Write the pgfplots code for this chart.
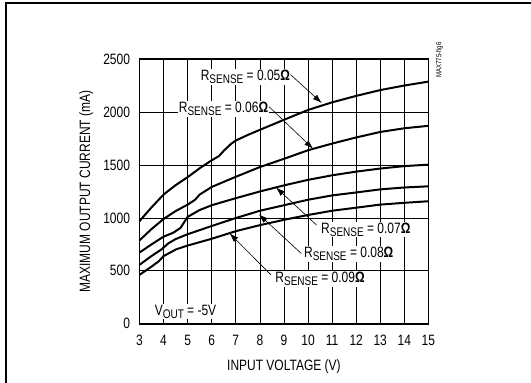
\documentclass[border=0pt]{standalone}
\usepackage{fontspec}
\setmainfont{Liberation Sans}[FakeStretch=0.8]
\usepackage{pgfplots}
\pgfplotsset{compat=1.18}
\usetikzlibrary{arrows.meta}
\newcommand{\rs}[1]{R\raisebox{-0.35ex}{\fontsize{12.5}{13}\selectfont SENSE} = #1{\bfseries Ω}}
\begin{document}
\begin{tikzpicture}[x=1pt,y=1pt]
\useasboundingbox (0,0) rectangle (531,383);
\draw[line width=1.6pt] (6,0) -- (6,380) -- (531,380);
\begin{axis}[
  at={(139.5pt,59.3pt)}, anchor=south west,
  scale only axis, width=288.9pt, height=264.4pt,
  xmin=3, xmax=15, ymin=0, ymax=2500,
  xtick={3,...,15}, ytick={0,500,...,2500},
  grid=major, major grid style={black, line width=0.7pt},
  axis line style={line width=1.8pt},
  major tick length=0pt,
  font=\fontsize{15}{17}\selectfont,
  /pgf/number format/assume math mode=true,
  /pgf/number format/1000 sep={},
  yticklabel style={xshift=-6pt},
  xticklabel style={yshift=-8pt},
  xlabel={INPUT VOLTAGE (V)},
  ylabel={MAXIMUM OUTPUT CURRENT (mA)},
  xlabel style={at={(axis description cs:0.5,-0.164)}, anchor=center},
  ylabel style={at={(axis description cs:-0.184,0.5)}, anchor=center, rotate=0},
  clip=false,
]
% R = 0.05
\addplot[black, line width=2pt] coordinates {
(3,970) (3.5,1100) (4,1221) (4.5,1310) (5,1386) (5.5,1470) (6,1545) (6.3,1585) (6.5,1635) (6.8,1700) (7,1732) (7.5,1785) (8,1833) (9,1928) (10,2021) (11,2093) (12,2154) (13,2209) (14,2252) (15,2289)};
% R = 0.06
\addplot[black, line width=2pt] coordinates {
(3,788) (3.5,895) (4,990) (4.5,1065) (5,1126) (5.3,1170) (5.5,1221) (6,1293) (7,1389) (8,1481) (9,1559) (10,1640) (11,1703) (12,1761) (13,1813) (14,1848) (15,1871)};
% R = 0.07
\addplot[black, line width=2pt] coordinates {
(3,673) (3.5,750) (4,823) (4.4,860) (4.7,905) (5,1010) (5.5,1075) (6,1120) (7,1187) (8,1250) (9,1308) (10,1360) (11,1403) (12,1438) (13,1467) (14,1490) (15,1504)};
% R = 0.08
\addplot[black, line width=2pt] coordinates {
(3,557) (3.5,640) (3.9,700) (4.2,760) (4.5,800) (5,846) (6,924) (7,999) (8,1068) (9,1120) (10,1172) (11,1213) (12,1241) (13,1270) (14,1288) (15,1299)};
% R = 0.09
\addplot[black, line width=2pt] coordinates {
(3,462) (3.5,540) (3.8,590) (4,640) (4.3,675) (4.5,701) (5,739) (6,803) (7,875) (8,932) (9,982) (10,1028) (11,1068) (12,1097) (13,1126) (14,1143) (15,1158)};

\tikzset{lab/.style={fill=white, inner sep=1pt}, arr/.style={-{Latex[length=9pt,width=6pt]}, line width=0.6pt}}
\node[lab] at (axis cs:7.4,2333) {\rs{0.05}};
\draw[arr] (axis cs:9.27,2356) -- (axis cs:10.57,2087);
\node[lab] at (axis cs:6.49,2030) {\rs{0.06}};
\draw[arr] (axis cs:8.39,2050) -- (axis cs:10.21,1654);
\node[lab] at (axis cs:12.4,889) {\rs{0.07}};
\draw[arr] (axis cs:10.36,932) -- (axis cs:8.67,1288);
\node[lab] at (axis cs:11.69,658) {\rs{0.08}};
\draw[arr] (axis cs:9.72,664) -- (axis cs:7.96,1034);
\node[lab] at (axis cs:10.5,421) {\rs{0.09}};
\draw[arr] (axis cs:8.46,462) -- (axis cs:6.74,855);
\node[lab] at (axis cs:4.91,115) {V\raisebox{-0.35ex}{\fontsize{12.5}{13}\selectfont OUT} = -5V};
\end{axis}
\node[rotate=90, font=\fontsize{7.5}{8}\selectfont] at (439.5,323) {MAX775-fig6};
\end{tikzpicture}
\end{document}
